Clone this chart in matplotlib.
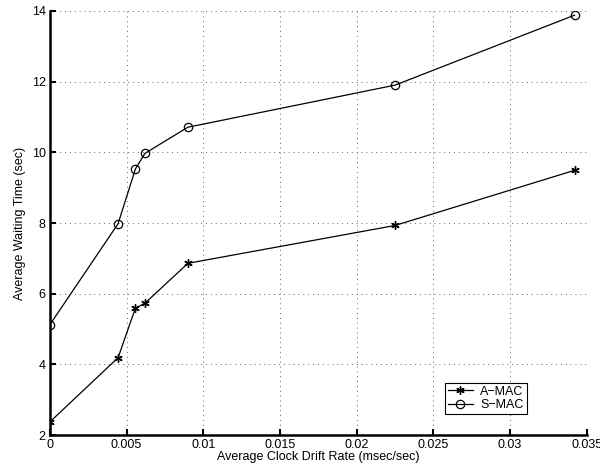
import matplotlib
matplotlib.use("Agg")
import matplotlib.pyplot as plt

plt.rcParams["font.family"] = ["Liberation Sans", "DejaVu Sans"]
plt.rcParams["font.size"] = 9

drift_rate = [0, 0.00445, 0.00558, 0.0062, 0.0090, 0.0225, 0.0342]
amac_wait = [2.37, 4.19, 5.59, 5.73, 6.86, 7.93, 9.49]
smac_wait = [5.12, 7.98, 9.53, 9.97, 10.71, 11.9, 13.88]

fig = plt.figure(figsize=(6, 4.75), dpi=100)
ax = fig.add_axes([0.083, 0.084, 0.895, 0.893])

ax.plot(drift_rate, amac_wait, color="black", lw=0.9, marker=(6, 2, 0),
        markersize=6, markeredgewidth=1.0, label="A\u2212MAC")
ax.plot(drift_rate, smac_wait, color="black", lw=0.9, marker="o",
        markersize=6, markerfacecolor="none", markeredgewidth=0.9, label="S\u2212MAC")

ax.set_xlim(0, 0.035)
ax.set_ylim(2, 14)
ax.set_xticks([0, 0.005, 0.01, 0.015, 0.02, 0.025, 0.03, 0.035])
ax.set_xticklabels(["0", "0.005", "0.01", "0.015", "0.02", "0.025", "0.03", "0.035"])
ax.set_yticks([2, 4, 6, 8, 10, 12, 14])

ax.grid(True, linestyle=(0, (1, 4)), color="0.4", linewidth=0.7)
ax.tick_params(direction="in", length=4, width=1.5, pad=3)
for side in ["top", "right"]:
    ax.spines[side].set_visible(False)
for side in ["left", "bottom"]:
    ax.spines[side].set_linewidth(1.8)

ax.set_xlabel("Average Clock Drift Rate (msec/sec)", labelpad=0)
ax.set_ylabel("Average Waiting Time (sec)", labelpad=4)

leg = ax.legend(loc="lower right", bbox_to_anchor=(0.9, 0.035), fancybox=False,
                edgecolor="black", framealpha=1, handlelength=2.0,
                borderpad=0.25, labelspacing=0.1, handletextpad=0.6)
leg.get_frame().set_linewidth(0.8)

fig.savefig("out.png", dpi=100)
